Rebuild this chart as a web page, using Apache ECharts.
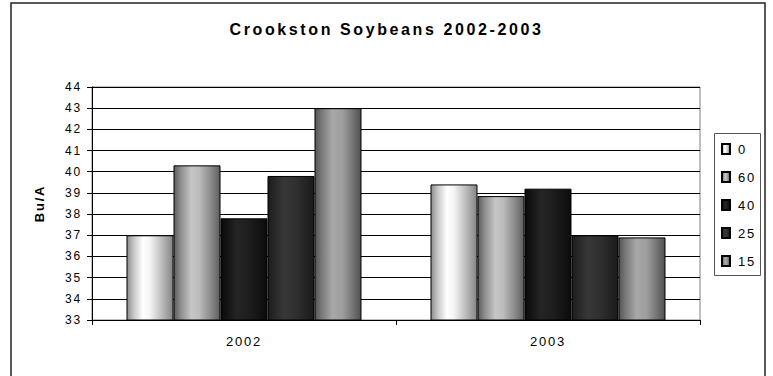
<!DOCTYPE html>
<html>
<head>
<meta charset="utf-8">
<script src="https://cdn.jsdelivr.net/npm/echarts@6/dist/echarts.min.js"></script>
<style>
  html, body { margin: 0; padding: 0; background: #fff; }
  #chart { width: 773px; height: 376px; }
  /* wide, Excel-like tracking for all chart text */
  #chart text { letter-spacing: 1.8px; }
  #chart text[style*="16px"] { letter-spacing: 2.6px; }
</style>
</head>
<body>
<div id="chart"></div>
<script>
// Crookston soybean yield (Bu/A) by treatment rate, 2002-2003
const years = ['2002', '2003'];
const rateNames = ['0', '60', '40', '25', '15'];
const yieldRate0 = [37.0, 39.4];
const yieldRate60 = [40.3, 38.85];
const yieldRate40 = [37.8, 39.2];
const yieldRate25 = [39.8, 37.0];
const yieldRate15 = [43.0, 36.9];
const yMin = 33, yMax = 44, yStep = 1;

// cylinder-like horizontal shading for each rate
function shade(stops) {
  return {
    type: 'linear', x: 0, y: 0, x2: 1, y2: 0,
    colorStops: stops.map(([offset, color]) => ({ offset, color }))
  };
}
const fills = [
  shade([[0, '#8c8c8c'], [0.15, '#c8c8c8'], [0.35, '#ffffff'], [0.5, '#f4f4f4'], [0.75, '#bdbdbd'], [1, '#858585']]),
  shade([[0, '#5c5c5c'], [0.15, '#8f8f8f'], [0.38, '#c6c6c6'], [0.55, '#bcbcbc'], [0.8, '#8a8a8a'], [1, '#5e5e5e']]),
  shade([[0, '#0a0a0a'], [0.35, '#242424'], [0.6, '#1e1e1e'], [1, '#0b0b0b']]),
  shade([[0, '#1c1c1c'], [0.35, '#383838'], [0.6, '#303030'], [1, '#1a1a1a']]),
  shade([[0, '#555555'], [0.15, '#7a7a7a'], [0.38, '#a8a8a8'], [0.6, '#9e9e9e'], [0.85, '#6e6e6e'], [1, '#505050']])
];
const seriesValues = [yieldRate0, yieldRate60, yieldRate40, yieldRate25, yieldRate15];

const FONT = "'Liberation Sans', Arial, sans-serif";

const chart = echarts.init(document.getElementById('chart'), null, { renderer: 'svg' });
chart.setOption({
  backgroundColor: '#ffffff',
  animation: false,
  title: {
    text: 'Crookston Soybeans 2002-2003',
    left: 'center',
    top: 21,
    padding: 0,
    textStyle: { fontFamily: FONT, fontSize: 16, fontWeight: 'bold', color: '#000' }
  },
  legend: {
    orient: 'vertical',
    left: 721,
    top: 142,
    padding: 0,
    itemWidth: 8,
    itemHeight: 10,
    itemGap: 14,
    icon: 'rect',
    data: rateNames,
    textStyle: { fontFamily: FONT, fontSize: 13, color: '#000', lineHeight: 14, padding: [0, 0, 0, 3] }
  },
  grid: {
    left: 92, right: 73, top: 87, bottom: 56,
    show: true, borderColor: '#808080', borderWidth: 1, backgroundColor: '#fff'
  },
  xAxis: {
    type: 'category',
    data: years,
    axisLine: { lineStyle: { color: '#000', width: 1 } },
    axisTick: { show: true, length: 5, alignWithLabel: false, lineStyle: { color: '#000' } },
    axisLabel: { fontFamily: FONT, fontSize: 13, color: '#000', margin: 15 },
    splitLine: { show: false }
  },
  yAxis: {
    type: 'value',
    min: yMin, max: yMax, interval: yStep,
    name: 'Bu/A',
    nameLocation: 'middle',
    nameGap: 46,
    nameTextStyle: { fontFamily: FONT, fontSize: 13, fontWeight: 'bold', color: '#000' },
    axisLine: { show: true, lineStyle: { color: '#000', width: 1 } },
    axisTick: { show: true, length: 5, lineStyle: { color: '#000' } },
    axisLabel: { fontFamily: FONT, fontSize: 12, color: '#000', margin: 10 },
    splitLine: { show: true, lineStyle: { color: '#000', width: 1 } }
  },
  series: rateNames.map((name, i) => ({
    name,
    type: 'bar',
    data: seriesValues[i],
    barGap: '0%',
    barCategoryGap: '22.7%',
    itemStyle: { color: fills[i], borderColor: '#000', borderWidth: 1 }
  })),
  graphic: [
    {
      type: 'rect', silent: true, z: 100,
      shape: { x: 11, y: 3, width: 754, height: 380 },
      style: { fill: 'none', stroke: '#222', lineWidth: 1.5 }
    },
    {
      type: 'rect', silent: true, z: 100,
      shape: { x: 714.5, y: 133.5, width: 46, height: 142 },
      style: { fill: 'none', stroke: '#555', lineWidth: 1 }
    }
  ]
});
</script>
</body>
</html>
